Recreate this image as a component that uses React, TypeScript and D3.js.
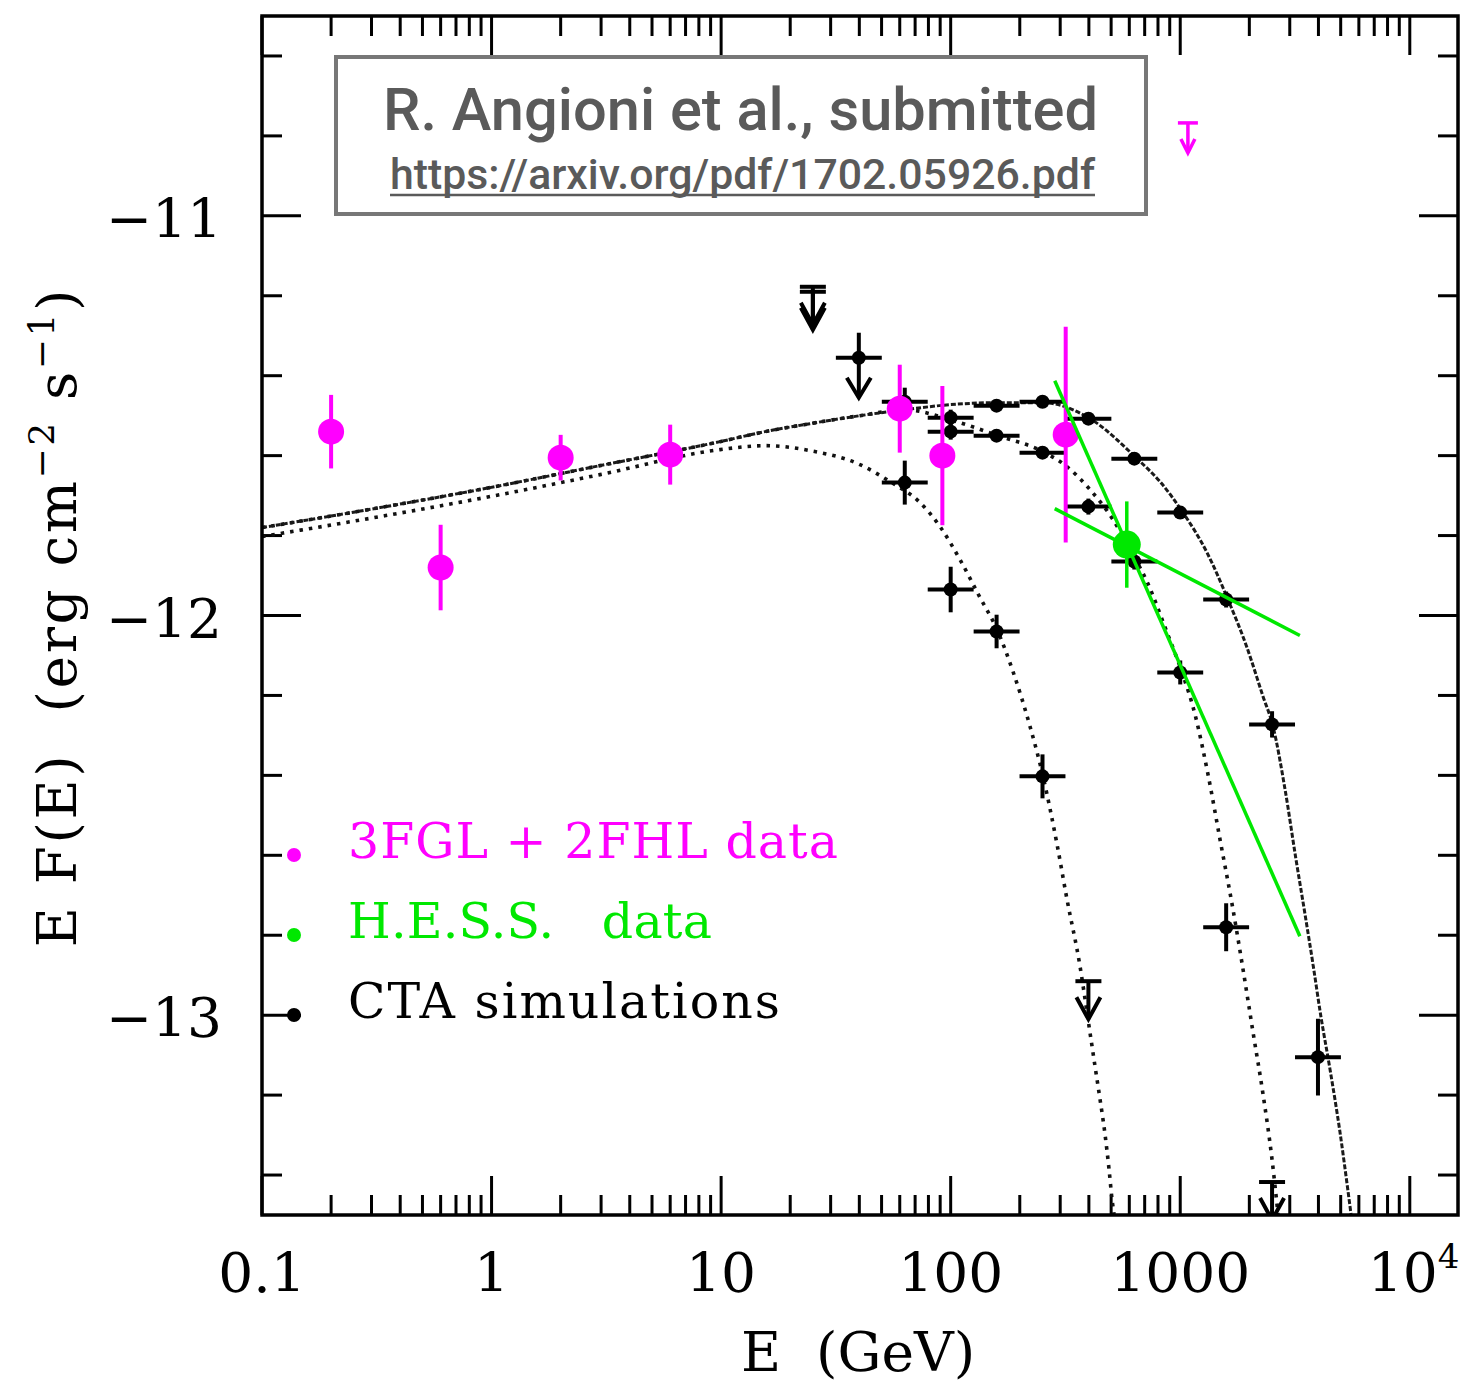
import React from "react";
import * as d3 from "d3";

// ---------------- axis ticks ----------------
const xTickValues = [0.1, 1, 10, 100, 1000, 10000];
const xTickLabels = ["0.1", "1", "10", "100", "1000", "10^4"];
const yTickValues = [-11, -12, -13];
const yTickLabels = ["\u221211", "\u221212", "\u221213"];

// ---------------- 3FGL + 2FHL (Fermi-LAT) ----------------
const fermiEnergy = [0.2, 0.6, 2.0, 6.0, 60, 92, 317];
const fermiFlux = [-11.54, -11.88, -11.605, -11.5975, -11.4825, -11.6, -11.5475];
const fermiError = [0.092, 0.107, 0.057, 0.075, 0.11, 0.174, 0.27];
const fermiLimitEnergy = [1080];
const fermiLimitFlux = [-10.7675];

// ---------------- H.E.S.S. ----------------
const hessEnergy = [585];
const hessFlux = [-11.8225];
const hessError = [0.108];
// power-law butterfly edges through the pivot: [E, log EF] end points
const hessSteepEdge: [number, number][] = [[284, -11.4125], [3320, -12.8025]];
const hessFlatEdge: [number, number][] = [[284, -11.7325], [3320, -12.05]];

// ---------------- CTA simulated spectra ----------------
const ctaLowCutEnergy = [63.1, 100, 158.5, 251.2];
const ctaLowCutFlux = [-11.6675, -11.935, -12.04, -12.4025];
const ctaLowCutError = [0.055, 0.057, 0.042, 0.055];

const ctaMidCutEnergy = [63.1, 100, 158.5, 251.2, 398.1, 631, 1000, 1585];
const ctaMidCutFlux = [-11.465, -11.54, -11.55, -11.5925, -11.7275, -11.865, -12.1425, -12.78];
const ctaMidCutError = [0.035, 0.02, 0.015, 0.015, 0.02, 0.02, 0.03, 0.06];

const ctaHighCutEnergy = [100, 158.5, 251.2, 398.1, 631, 1000, 1585, 2512, 3981];
const ctaHighCutFlux = [-11.505, -11.475, -11.465, -11.5075, -11.6075, -11.7425, -11.96, -12.2725, -13.105];
const ctaHighCutError = [0.02, 0.012, 0.012, 0.012, 0.015, 0.015, 0.02, 0.033, 0.096];

// upper limits (E, log EF of the bar)
const ctaLimitEnergy = [25.1, 25.1, 398.1, 2512];
const ctaLimitFlux = [-11.1775, -11.19, -12.915, -13.4175];

// point with an upper error bar and a downward (limit) lower bar
const ctaArrowPointEnergy = [39.8];
const ctaArrowPointFlux = [-11.355];
const ctaArrowPointUpper = [0.0625];

// ---------------- model curves [E (GeV), log EF] ----------------
const modelLowCut: [number, number][] = [
  [0.1, -11.8025], [0.327, -11.7525], [0.984, -11.7025], [2.968, -11.6475],
  [9.89, -11.585], [15.53, -11.575], [24.39, -11.5875], [40.27, -11.6225],
  [54.41, -11.665], [73.51, -11.7175], [89.85, -11.7775], [109.8, -11.86],
  [134.2, -11.955], [159.1, -12.035], [186.8, -12.14], [221.6, -12.2775],
  [252.5, -12.4025], [290.6, -12.5725], [321.1, -12.71], [365.9, -12.8775],
  [396.4, -13.01], [425.3, -13.1275], [447.2, -13.21], [470.1, -13.2975],
  [489.5, -13.385], [504.4, -13.46], [514.6, -13.4975],
];

const modelCommonLow: [number, number][] = [
  [0.1, -11.78], [0.327, -11.73], [0.984, -11.68], [2.968, -11.625],
  [9.89, -11.565], [15.53, -11.54], [24.39, -11.52], [40.27, -11.5], [63.24, -11.485],
];

const modelMidCutTail: [number, number][] = [
  [99.3, -11.51], [160.7, -11.55], [252.5, -11.59], [321.1, -11.6275],
  [404.5, -11.685], [509.5, -11.76], [604.2, -11.835], [716.4, -11.915],
  [875.9, -12.0425], [1017.9, -12.1425], [1159.6, -12.2475], [1321, -12.3975],
  [1490, -12.56], [1697, -12.735], [1877, -12.885], [2075, -13.0425],
  [2294, -13.1975], [2510, -13.36], [2666, -13.4975],
];

const modelHighCutTail: [number, number][] = [
  [99.3, -11.4725], [160.7, -11.4675], [252.5, -11.4675], [404.5, -11.5075],
  [648, -11.6075], [816, -11.665], [1028, -11.7425], [1308, -11.8425],
  [1614, -11.96], [1953, -12.08], [2294, -12.2025], [2536, -12.2775],
  [2861, -12.435], [3193, -12.61], [3496, -12.7475], [3787, -12.8725],
  [4104, -13.005], [4491, -13.135], [4964, -13.2925], [5380, -13.44], [5545, -13.4975],
];

// ---------------- legend ----------------
const legendLabels = ["3FGL + 2FHL data", "H.E.S.S.   data", "CTA simulations"];
const legendColors = ["#ff00ff", "#00e800", "#000000"];
const legendWidths = [490, 364, 432];

const MAGENTA = "#ff00ff";
const GREEN = "#00e800";
const SERIF = "'DejaVu Serif', serif";

const PLOT = { left: 262, right: 1458, top: 16, bottom: 1215 };

export default function App() {
  const x = d3.scaleLog().domain([0.1, 16218]).range([PLOT.left, PLOT.right]);
  const y = d3.scaleLinear().domain([-13.5, -10.5]).range([PLOT.bottom, PLOT.top]);

  const line = d3
    .line<[number, number]>()
    .x((d) => x(d[0]))
    .y((d) => y(d[1]))
    .curve(d3.curveMonotoneX);

  // minor ticks
  const xMinor: number[] = [];
  for (let p = -1; p <= 4; p++) {
    for (let k = 2; k <= 9; k++) {
      const v = k * Math.pow(10, p);
      if (v < 16218) xMinor.push(v);
    }
  }
  const yMinor: number[] = [];
  for (let i = -67; i <= -53; i++) {
    if (i % 5 !== 0) yMinor.push(i * 0.2);
  }
  const MAJ = 39;
  const MIN = 20;
  const dex = Math.pow(10, 0.1);

  const cross = (E: number, v: number, err: number, key: string) => (
    <g key={key} stroke="#000" strokeWidth={4}>
      <line x1={x(E / dex)} x2={x(E * dex)} y1={y(v)} y2={y(v)} />
      <line x1={x(E)} x2={x(E)} y1={y(v + err)} y2={y(v - err)} />
      <circle cx={x(E)} cy={y(v)} r={7} fill="#000" stroke="none" />
    </g>
  );

  const limit = (
    cx: number,
    cy: number,
    key: string,
    color: string,
    bar: number,
    len: number,
    headW: number,
    headH: number,
    sw: number
  ) => (
    <g key={key} stroke={color} strokeWidth={sw} fill="none" strokeLinejoin="miter">
      <line x1={cx - bar} x2={cx + bar} y1={cy} y2={cy} />
      <line x1={cx} x2={cx} y1={cy} y2={cy + len} />
      <polyline points={`${cx - headW},${cy + len - headH} ${cx},${cy + len} ${cx + headW},${cy + len - headH}`} />
    </g>
  );

  const yLabelSup = 36;

  return (
    <svg
      width={1470}
      height={1385}
      style={{ position: "absolute", left: 0, top: 0, background: "#fff" }}
    >
      <defs>
        <clipPath id="plotArea">
          <rect x={PLOT.left} y={PLOT.top} width={PLOT.right - PLOT.left} height={PLOT.bottom - PLOT.top} />
        </clipPath>
      </defs>
      <rect width={1470} height={1385} fill="#fff" />

      {/* ticks */}
      <g stroke="#000" strokeWidth={3}>
        {xTickValues.map((v) => (
          <g key={"xM" + v}>
            <line x1={x(v)} x2={x(v)} y1={PLOT.bottom} y2={PLOT.bottom - MAJ} />
            <line x1={x(v)} x2={x(v)} y1={PLOT.top} y2={PLOT.top + MAJ} />
          </g>
        ))}
        {xMinor.map((v) => (
          <g key={"xm" + v}>
            <line x1={x(v)} x2={x(v)} y1={PLOT.bottom} y2={PLOT.bottom - MIN} />
            <line x1={x(v)} x2={x(v)} y1={PLOT.top} y2={PLOT.top + MIN} />
          </g>
        ))}
        {yTickValues.map((v) => (
          <g key={"yM" + v}>
            <line x1={PLOT.left} x2={PLOT.left + MAJ} y1={y(v)} y2={y(v)} />
            <line x1={PLOT.right} x2={PLOT.right - MAJ} y1={y(v)} y2={y(v)} />
          </g>
        ))}
        {yMinor.map((v) => (
          <g key={"ym" + v}>
            <line x1={PLOT.left} x2={PLOT.left + MIN} y1={y(v)} y2={y(v)} />
            <line x1={PLOT.right} x2={PLOT.right - MIN} y1={y(v)} y2={y(v)} />
          </g>
        ))}
      </g>

      {/* model curves */}
      <g clipPath="url(#plotArea)" fill="none">
        <path d={line(modelLowCut) || ""} stroke="#111" strokeWidth={3.6} strokeDasharray="3.5 6" />
        <path d={line([...modelCommonLow, ...modelMidCutTail]) || ""} stroke="#111" strokeWidth={3.6} strokeDasharray="3.5 6" />
        <path d={line([...modelCommonLow, ...modelHighCutTail]) || ""} stroke="#1a1a1a" strokeWidth={3} strokeDasharray="5 2" />
      </g>

      {/* CTA simulations */}
      <g clipPath="url(#plotArea)">
        {ctaLowCutEnergy.map((E, i) => cross(E, ctaLowCutFlux[i], ctaLowCutError[i], "lc" + i))}
        {ctaMidCutEnergy.map((E, i) => cross(E, ctaMidCutFlux[i], ctaMidCutError[i], "mc" + i))}
        {ctaHighCutEnergy.map((E, i) => cross(E, ctaHighCutFlux[i], ctaHighCutError[i], "hc" + i))}
        {ctaLimitEnergy.map((E, i) => limit(x(E), y(ctaLimitFlux[i]), "ul" + i, "#000", 13, 38, 12, 22, 4))}
        {ctaArrowPointEnergy.map((E, i) => {
          const cx = x(E);
          const cy = y(ctaArrowPointFlux[i]);
          return (
            <g key={"ap" + i} stroke="#000" strokeWidth={4} fill="none">
              <line x1={x(E / dex)} x2={x(E * dex)} y1={cy} y2={cy} />
              <line x1={cx} x2={cx} y1={y(ctaArrowPointFlux[i] + ctaArrowPointUpper[i])} y2={cy + 40} />
              <polyline points={`${cx - 12},${cy + 20} ${cx},${cy + 40} ${cx + 12},${cy + 20}`} />
              <circle cx={cx} cy={cy} r={7} fill="#000" stroke="none" />
            </g>
          );
        })}
      </g>

      {/* 3FGL + 2FHL */}
      <g>
        {fermiEnergy.map((E, i) => (
          <g key={"f" + i}>
            <line
              x1={x(E)}
              x2={x(E)}
              y1={y(fermiFlux[i] + fermiError[i])}
              y2={y(fermiFlux[i] - fermiError[i])}
              stroke={MAGENTA}
              strokeWidth={4}
            />
            <circle cx={x(E)} cy={y(fermiFlux[i])} r={13} fill={MAGENTA} />
          </g>
        ))}
        {fermiLimitEnergy.map((E, i) =>
          limit(x(E), y(fermiLimitFlux[i]), "fl" + i, MAGENTA, 10, 30, 7, 14, 3.5)
        )}
      </g>

      {/* H.E.S.S. */}
      <g>
        <path d={line(hessSteepEdge) || ""} stroke={GREEN} strokeWidth={3.5} fill="none" />
        <path d={line(hessFlatEdge) || ""} stroke={GREEN} strokeWidth={3.5} fill="none" />
        {hessEnergy.map((E, i) => (
          <g key={"h" + i}>
            <line
              x1={x(E)}
              x2={x(E)}
              y1={y(hessFlux[i] + hessError[i])}
              y2={y(hessFlux[i] - hessError[i])}
              stroke={GREEN}
              strokeWidth={3.5}
            />
            <circle cx={x(E)} cy={y(hessFlux[i])} r={14} fill={GREEN} />
          </g>
        ))}
      </g>

      {/* frame */}
      <rect
        x={PLOT.left}
        y={PLOT.top}
        width={PLOT.right - PLOT.left}
        height={PLOT.bottom - PLOT.top}
        fill="none"
        stroke="#000"
        strokeWidth={3.5}
      />

      {/* tick labels */}
      <g fontFamily={SERIF} fontSize={55} fill="#000">
        {xTickValues.map((v, i) => {
          const lab = xTickLabels[i];
          if (lab.includes("^")) {
            const [base, sup] = lab.split("^");
            return (
              <text key={"xl" + i} x={x(v) - 42} y={1292}>
                {base}
                <tspan dy={-24} fontSize={34}>{sup}</tspan>
              </text>
            );
          }
          return (
            <text key={"xl" + i} x={x(v)} y={1292} textAnchor="middle">
              {lab}
            </text>
          );
        })}
        {yTickValues.map((v, i) => (
          <text key={"yl" + i} x={222} y={y(v) + 22} textAnchor="end">
            {yTickLabels[i]}
          </text>
        ))}
      </g>

      {/* axis titles */}
      <text x={858} y={1371} textAnchor="middle" fontFamily={SERIF} fontSize={55} style={{ whiteSpace: "pre" }}>
        {"E  (GeV)"}
      </text>
      <text
        transform="translate(76,617) rotate(-90)"
        textAnchor="middle"
        fontFamily={SERIF}
        fontSize={55}
        letterSpacing={2.6}
        style={{ whiteSpace: "pre" }}
      >
        {"E F(E)  (erg cm"}
        <tspan dy={-22} fontSize={yLabelSup}>{"\u22122"}</tspan>
        <tspan dy={22}>{" s"}</tspan>
        <tspan dy={-22} fontSize={yLabelSup}>{"\u22121"}</tspan>
        <tspan dy={22}>{")"}</tspan>
      </text>

      {/* legend */}
      <g>
        {legendLabels.map((lab, i) => (
          <g key={"lg" + i}>
            <circle cx={294} cy={855 + i * 80} r={7} fill={legendColors[i]} />
            <text
              x={348}
              y={858 + i * 80}
              fontFamily={SERIF}
              fontSize={49}
              fill={legendColors[i]}
              textLength={legendWidths[i]}
              lengthAdjust="spacing"
              style={{ whiteSpace: "pre" }}
            >
              {lab}
            </text>
          </g>
        ))}
      </g>

      {/* citation box */}
      <g>
        <rect x={336} y={57} width={810} height={157} fill="#fff" stroke="#777" strokeWidth={4} />
        <text
          x={383}
          y={130}
          fontFamily="Roboto, 'Open Sans', sans-serif"
          fontWeight={500}
          fontSize={60}
          fill="#5a5a5a"
          textLength={715}
          lengthAdjust="spacingAndGlyphs"
        >
          R. Angioni et al., submitted
        </text>
        <text
          x={390}
          y={189}
          fontFamily="Roboto, 'Open Sans', sans-serif"
          fontWeight={500}
          fontSize={42}
          fill="#5a5a5a"
          textLength={705}
          lengthAdjust="spacingAndGlyphs"
        >
          https://arxiv.org/pdf/1702.05926.pdf
        </text>
        <line x1={390} x2={1095} y1={195} y2={195} stroke="#5a5a5a" strokeWidth={2.5} />
      </g>
    </svg>
  );
}
